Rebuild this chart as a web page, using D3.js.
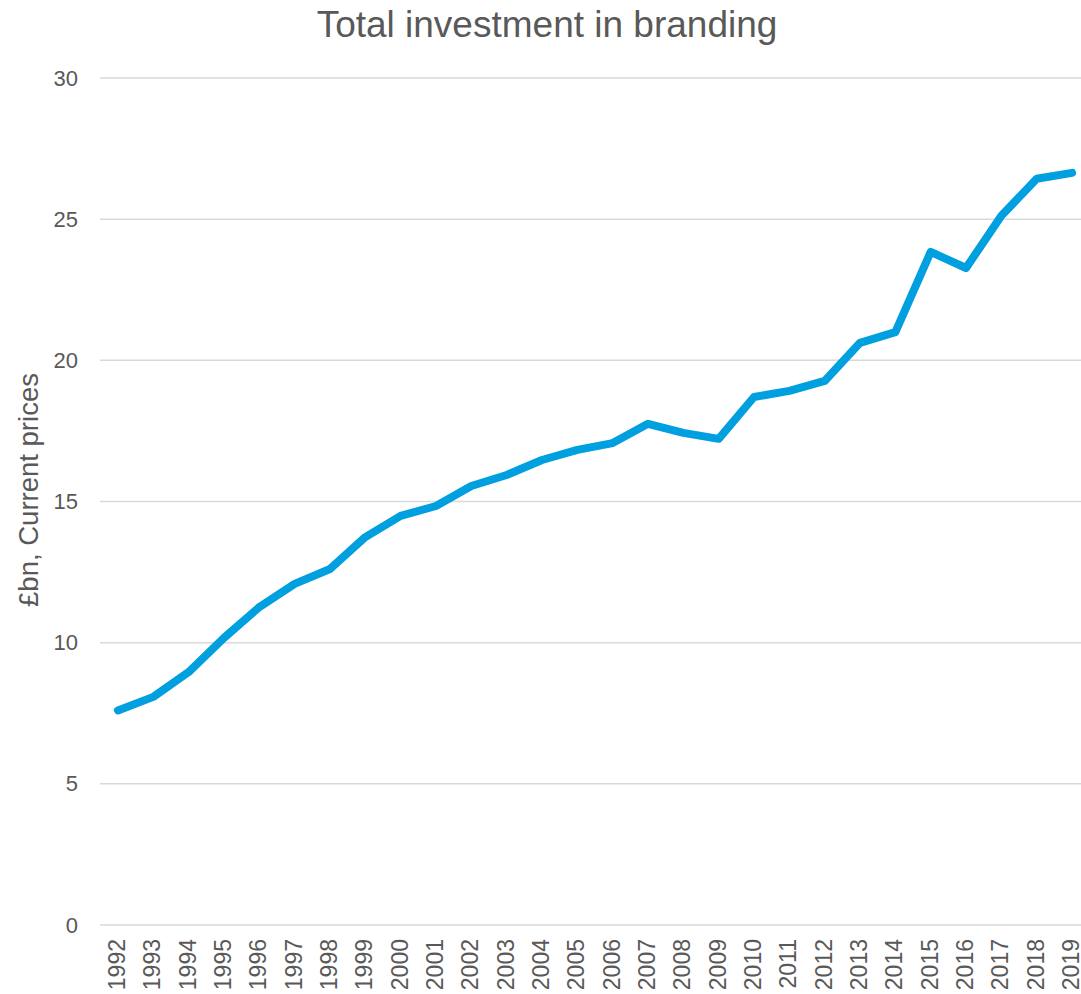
<!DOCTYPE HTML>
<html lang="en">
<head>
  <meta charset="utf-8">
  <title>Total investment in branding</title>
  <script src="https://cdnjs.cloudflare.com/ajax/libs/d3/7.8.5/d3.min.js"></script>
  <style>
    body { margin: 0; background: #fff; }
    text { font-family: "Liberation Sans", Arial, sans-serif; fill: #595959; }
  </style>
</head>
<body>
<div id="stage"></div>
<script>
  var years = ["1992","1993","1994","1995","1996","1997","1998","1999","2000","2001",
    "2002","2003","2004","2005","2006","2007","2008","2009","2010","2011",
    "2012","2013","2014","2015","2016","2017","2018","2019"];
  var branding = [7.6, 8.08, 8.96, 10.17, 11.26, 12.08, 12.61, 13.74, 14.49, 14.84,
    15.55, 15.94, 16.47, 16.83, 17.07, 17.75, 17.43, 17.22, 18.70, 18.92,
    19.27, 20.62, 21.0, 23.84, 23.27, 25.12, 26.43, 26.64];
  var yTicks = [0, 5, 10, 15, 20, 25, 30];

  var W = 1081, H = 994;
  var svg = d3.select("#stage").append("svg").attr("width", W).attr("height", H);

  var x = d3.scaleBand().domain(years).range([100.3, 1089.7]);
  var y = d3.scaleLinear().domain([0, 30]).range([925, 78]);

  // gridlines
  svg.append("g").selectAll("line").data(yTicks).enter().append("line")
    .attr("x1", 100).attr("x2", W)
    .attr("y1", function(d) { return y(d); }).attr("y2", function(d) { return y(d); })
    .style("stroke", "#d9d9d9").style("stroke-width", 1.5);

  // y axis labels
  var yAxis = d3.axisLeft(y).tickValues(yTicks).tickSize(0).tickPadding(0);
  var gy = svg.append("g").attr("transform", "translate(78,0)").call(yAxis);
  gy.select(".domain").remove();
  gy.selectAll("text").style("font-size", "22px").style("fill", "#595959")
    .style("font-family", "Liberation Sans, Arial, sans-serif");

  // x axis labels
  var xAxis = d3.axisBottom(x).tickSize(0).tickPadding(0);
  var gx = svg.append("g").attr("transform", "translate(0,925)").call(xAxis);
  gx.select(".domain").remove();
  gx.selectAll("text")
    .attr("transform", "rotate(-90)")
    .attr("x", -14).attr("y", -1).attr("dy", "0.35em")
    .style("text-anchor", "end")
    .style("font-size", "23px").style("fill", "#595959")
    .style("font-family", "Liberation Sans, Arial, sans-serif");

  // the line
  var line = d3.line()
    .x(function(d, i) { return x(years[i]) + x.bandwidth() / 2; })
    .y(function(d) { return y(d); });
  svg.append("path").datum(branding)
    .attr("d", line)
    .style("fill", "none").style("stroke", "#009fdf")
    .style("stroke-width", 8).style("stroke-linecap", "round").style("stroke-linejoin", "round");

  // title
  svg.append("text").attr("x", 547).attr("y", 37).attr("text-anchor", "middle")
    .style("font-size", "37px").text("Total investment in branding");

  // y title
  svg.append("text").attr("transform", "translate(38,490) rotate(-90)")
    .attr("text-anchor", "middle").style("font-size", "27.5px")
    .text("£bn, Current prices");
</script>
</body>
</html>
